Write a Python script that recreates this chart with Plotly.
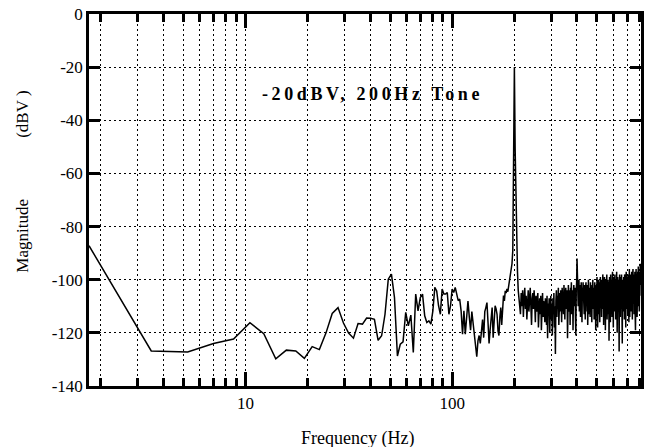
import numpy as np
import plotly.graph_objects as go

# FFT bin spacing of the analyser (Hz per bin); bin k sits at k * BIN_HZ
BIN_HZ = 1.75

# Magnitude in dBV, bins 1-60 (1.75 - 105 Hz)
mag_low = [
    -87.2, -126.8, -127.2, -124.0, -122.3, -116.2, -120.3, -129.8, -126.5, -126.8,
    -129.6, -125.2, -126.3, -120.0, -112.7, -110.5, -116.3, -120.1, -122.0, -116.5,
    -116.7, -114.4, -114.5, -114.9, -122.8, -121.1, -113.0, -99.8, -97.9, -106.7,
    -128.7, -124.3, -123.4, -112.3, -117.4, -113.3, -127.4, -105.4, -111.7, -106.7,
    -105.4, -113.6, -116.1, -115.5, -116.7, -111.7, -102.9, -104.2, -109.8, -113.0,
    -103.5, -105.4, -105.4, -104.8, -113.0, -109.8, -103.5, -104.8, -102.9, -105.4,
]

# bins 61-120 (107 - 210 Hz), includes the 200 Hz tone
mag_mid = [
    -107.9, -107.3, -111.7, -120.5, -111.7, -120.5, -113.0, -108.0, -114.0, -119.0,
    -112.0, -116.0, -121.0, -125.0, -129.0, -123.0, -121.0, -124.0, -118.0, -115.0,
    -121.8, -112.0, -110.5, -108.6, -116.0, -124.0, -119.0, -113.0, -110.5, -121.8,
    -115.0, -109.8, -111.0, -113.0, -119.3, -121.0, -114.0, -110.5, -117.0, -110.0,
    -106.0, -108.0, -104.2, -105.0, -103.5, -104.5, -102.0, -101.0, -98.0, -96.6,
    -94.0, -89.0, -60.0, -20.0, -51.0, -72.0, -88.0, -97.0, -104.0, -108.0,
]

# bins 121-228 (212 - 399 Hz)
mag_hi1 = [
    -109, -113, -105, -110, -104, -114, -107, -103, -111, -106,
    -115, -108, -104, -112, -106, -103, -110, -117, -107, -105,
    -111, -104, -109, -116, -106, -112, -108, -105, -118, -110,
    -107, -113, -106, -119, -109, -105, -114, -108, -111, -116,
    -107, -110, -117, -106, -122, -109, -112, -107, -120, -111,
    -106, -115, -109, -121, -107, -113, -105, -118, -110, -128,
    -108, -104, -114, -106, -111, -103, -117, -107, -105, -112,
    -104, -109, -116, -103, -108, -106, -113, -102, -110, -115,
    -105, -103, -111, -107, -104, -122, -106, -102, -112, -108,
    -104, -117, -103, -109, -101, -113, -106, -104, -119, -105,
    -102, -110, -107, -103, -114, -121, -104, -101,
]

# bins 229-466 (401 - 816 Hz)
mag_hi2 = [
    -92, -106, -101, -110, -103, -100, -112, -105, -102, -114,
    -104, -101, -108, -116, -103, -107, -101, -111, -104, -113,
    -102, -106, -115, -103, -101, -109, -105, -112, -102, -117,
    -104, -100, -108, -113, -103, -106, -114, -101, -105, -110,
    -103, -116, -102, -107, -100, -111, -105, -103, -115, -104,
    -101, -109, -106, -119, -103, -102, -112, -99, -107, -118,
    -102, -105, -100, -113, -104, -101, -116, -103, -99, -110,
    -106, -102, -114, -100, -104, -111, -98, -108, -103, -117,
    -101, -105, -99, -112, -104, -119, -102, -100, -109, -105,
    -98, -115, -103, -107, -100, -113, -105, -101, -123, -104,
    -99, -108, -102, -116, -98, -105, -110, -100, -104, -114,
    -101, -97, -109, -105, -118, -99, -103, -107, -101, -112,
    -98, -106, -102, -115, -100, -104, -110, -97, -106, -120,
    -102, -99, -108, -104, -113, -100, -105, -127, -101, -98,
    -109, -103, -114, -99, -106, -101, -111, -98, -105, -117,
    -124, -102, -100, -107, -104, -112, -99, -106, -101, -115,
    -98, -105, -109, -100, -103, -118, -101, -97, -107, -104,
    -111, -99, -106, -101, -113, -98, -104, -108, -100, -116,
    -102, -96, -107, -114, -101, -99, -110, -103, -98, -112,
    -105, -100, -97, -108, -102, -115, -99, -104, -96, -109,
    -101, -107, -98, -113, -103, -100, -106, -97, -111, -104,
    -119, -99, -102, -96, -108, -101, -105, -98, -114, -100,
    -103, -97, -107, -102, -95, -110, -100, -104, -98, -112,
    -101, -97, -106, -99, -94, -105, -102, -100,
]

magnitude = mag_low + mag_mid + mag_hi1 + mag_hi2
freq = BIN_HZ * np.arange(1, len(magnitude) + 1)

# axis ticks
x_major_vals = [10, 100]
x_major_text = ["10", "100"]
x_minor_vals = [2, 3, 4, 5, 6, 7, 8, 9,
                20, 30, 40, 50, 60, 70, 80, 90,
                200, 300, 400, 500, 600, 700, 800]
y_tick_vals = [0, -20, -40, -60, -80, -100, -120, -140]
y_tick_text = ["0", "-20", "-40", "-60", "-80", "-100", "-120", "-140"]

FONT = "Liberation Serif"
DOTS = "2px,3px"

fig = go.Figure()
fig.add_trace(go.Scatter(
    x=freq, y=magnitude, mode="lines",
    line=dict(color="black", width=1.5),
    showlegend=False,
))

# in-plot note about the test signal
fig.add_annotation(
    x=np.log10(41.0), y=-30, xref="x", yref="y",
    text='<b><span style="letter-spacing:3.6px">-20dBV, 200Hz Tone</span></b>',
    showarrow=False,
    font=dict(family=FONT, size=18, color="black"),
)

# axis captions
fig.add_annotation(
    x=0.4856, y=-0.14, xref="paper", yref="paper",
    xanchor="center", yanchor="middle",
    text="Frequency (Hz)", showarrow=False,
    font=dict(family=FONT, size=18, color="black"),
)
fig.add_annotation(
    x=-0.1207, y=0.405, xref="paper", yref="paper",
    xanchor="center", yanchor="middle", textangle=-90,
    text="Magnitude", showarrow=False,
    font=dict(family=FONT, size=17, color="black"),
)
fig.add_annotation(
    x=-0.1207, y=0.73, xref="paper", yref="paper",
    xanchor="center", yanchor="middle", textangle=-90,
    text="(dBV )", showarrow=False,
    font=dict(family=FONT, size=17, color="black"),
)

fig.update_layout(
    width=647, height=447,
    margin=dict(l=89, r=3, t=14, b=61),
    paper_bgcolor="white", plot_bgcolor="white",
    font=dict(family=FONT, size=17, color="black"),
)

fig.update_xaxes(
    type="log",
    range=[np.log10(1.75), np.log10(817)],
    tickvals=x_major_vals, ticktext=x_major_text,
    ticks="inside", ticklen=14, tickwidth=2.5, tickcolor="black",
    showline=True, linewidth=2.5, linecolor="black", mirror="ticks",
    showgrid=True, gridcolor="black", gridwidth=1, griddash=DOTS,
    minor=dict(tickvals=x_minor_vals, ticks="inside", ticklen=8,
               tickwidth=2.5, tickcolor="black",
               showgrid=True, gridcolor="black", gridwidth=1, griddash=DOTS),
    zeroline=False,
    tickfont=dict(size=17),
)

fig.update_yaxes(
    range=[-140, 0],
    tickvals=y_tick_vals, ticktext=y_tick_text,
    ticks="inside", ticklen=11, tickwidth=2.5, tickcolor="black",
    showline=True, linewidth=2.5, linecolor="black", mirror="ticks",
    showgrid=True, gridcolor="black", gridwidth=1, griddash=DOTS,
    zeroline=False,
)

fig.write_html("out.html")
